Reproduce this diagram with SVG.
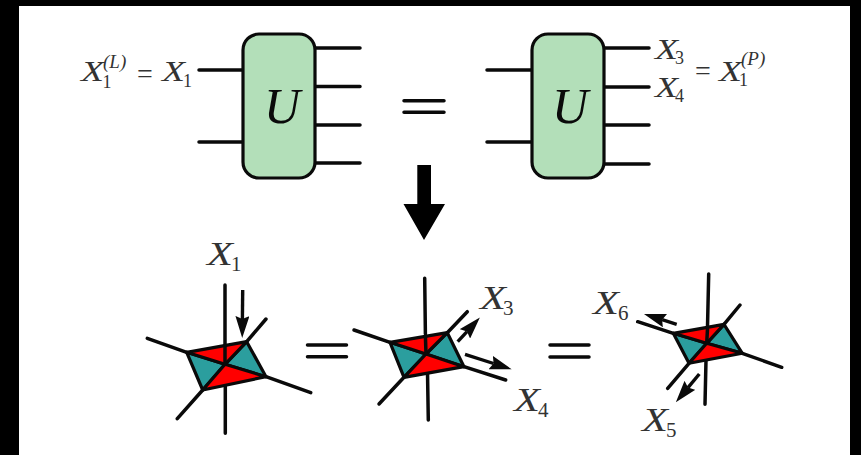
<svg xmlns="http://www.w3.org/2000/svg" width="861" height="455" viewBox="0 0 861 455">
<style>
.l{stroke:#0a0a0a;stroke-width:3.5;stroke-linecap:round;fill:none}
.b{fill:#b3dfb9;stroke:#0a0a0a;stroke-width:3.2}
.r{fill:#ff0000;stroke:#0a0a0a;stroke-width:3.2;stroke-linejoin:round}
.t{fill:#2b9e9e;stroke:#0a0a0a;stroke-width:3.2;stroke-linejoin:round}
.a{stroke:#0a0a0a;stroke-width:3.4;fill:none;marker-end:url(#h)}
text{font-family:"Liberation Serif","Times New Roman",serif;fill:#333}
.X{font-style:italic;font-size:34px}
.x{font-style:italic;font-size:30px}
.s{font-size:21px}
.q{font-size:18px}
.p{font-size:19px;font-style:italic}
.e{font-size:28px}
.U{font-style:italic;font-size:50px;fill:#0a0a0a}
</style>
<defs>
<marker id="h" markerUnits="userSpaceOnUse" markerWidth="22" markerHeight="14" viewBox="0 -7 22 14" refX="3" refY="0" orient="auto"><path d="M0,-7L22,0L0,7L3,0z" fill="#0a0a0a"/></marker>
</defs>
<rect width="861" height="455" fill="#000"/>
<rect x="19" y="6" width="831" height="449" fill="#fff"/>
<g id="connectors">
<path class="l" d="M199,70H244M199,142H244M315,48H360M315,86.500H360M315,125H360M315,163H360"/>
<path class="l" d="M487,70H532M487,142H532M604,48H649M604,87H649M604,125H649M604,164H649"/>
<path class="l" d="M404,100.700H444M404,112.300H444M307.500,345H346.500M307.500,356.700H346.500M550,345H589M550,357H589"/>
</g>
<g id="node-U-left"><rect class="b" x="243" y="34" width="72" height="144" rx="16"/><text class="U" x="282" y="123" text-anchor="middle">U</text></g>
<g id="node-U-right"><rect class="b" x="532" y="34" width="72" height="144" rx="16"/><text class="U" x="570" y="123" text-anchor="middle">U</text></g>
<path id="down-arrow" d="M417.300,165H431V204H445L424,240L403.500,204H417.300z" fill="#000"/>
<g id="node-tensor-1">
<path class="l" d="M225,285V352M225.300,385V433.300M246.700,341.700L266,319M186.700,352.300L147.300,338.300M266,376.700L310.700,392.700M202.700,390L177.300,418.700"/>
<polygon class="t" points="186.700,352.300 225,364.300 202.700,390"/><polygon class="t" points="246.700,341.700 266,376.700 225,364.300"/>
<polygon class="r" points="186.700,352.300 246.700,341.700 225,364.300"/><polygon class="r" points="266,376.700 202.700,390 225,364.300"/>
<path class="l" d="M225,346V364"/>
</g>
<line class="a" x1="242.700" y1="290" x2="242.400" y2="319"/>
<g id="node-tensor-2">
<path class="l" d="M424.700,278.300L425.400,334M427.500,372L428.300,420M447.300,332.700L467.300,311.700M390,342.300L354,330M464,366.700L505.700,380M404,377.300L379,404"/>
<polygon class="t" points="390,342.300 426,354 404,377.300"/><polygon class="t" points="447.300,332.700 464,366.700 426,354"/>
<polygon class="r" points="390,342.300 447.300,332.700 426,354"/><polygon class="r" points="464,366.700 404,377.300 426,354"/>
<path class="l" d="M425.400,336L426,354"/>
</g>
<line class="a" x1="457.700" y1="341.700" x2="467" y2="331.600"/>
<line class="a" x1="465" y1="354.300" x2="493.600" y2="363.500"/>
<g id="node-tensor-3">
<path class="l" d="M708.700,274L707.500,327M706,360L705,404.300M724,324.300L740,305M673.300,333.300L637.700,321.700M742.300,353.300L781.700,367.300M689,363.300L667.700,388.300"/>
<polygon class="t" points="673.300,333.300 706.700,343.300 689,363.300"/><polygon class="t" points="724,324.300 742.300,353.300 706.700,343.300"/>
<polygon class="r" points="673.300,333.300 724,324.300 706.700,343.300"/><polygon class="r" points="742.300,353.300 689,363.300 706.700,343.300"/>
<path class="l" d="M707.500,329L706.700,343.300"/>
</g>
<line class="a" x1="676.700" y1="324.300" x2="662.100" y2="319.700"/>
<line class="a" x1="699.300" y1="374" x2="688" y2="387.600"/>
<g id="labels">
<text x="81" y="81"><tspan class="x" textLength="23" lengthAdjust="spacingAndGlyphs">X</tspan><tspan class="q" x="102.500" y="88">1</tspan><tspan class="p" x="103" y="67.500">(L)</tspan><tspan class="e" x="137" y="83">=</tspan></text>
<text x="162" y="81"><tspan class="x" textLength="23" lengthAdjust="spacingAndGlyphs">X</tspan><tspan class="q" x="183" y="87">1</tspan></text>
<text x="655" y="58.500"><tspan class="x" textLength="23" lengthAdjust="spacingAndGlyphs">X</tspan><tspan class="q" x="675" y="63.500">3</tspan></text>
<text x="655" y="97"><tspan class="x" textLength="23" lengthAdjust="spacingAndGlyphs">X</tspan><tspan class="q" x="675" y="102">4</tspan></text>
<text class="e" x="695" y="79.500">=</text>
<text x="719" y="81"><tspan class="x" textLength="23" lengthAdjust="spacingAndGlyphs">X</tspan><tspan class="q" x="739" y="85.500">1</tspan><tspan class="p" x="741" y="65">(P)</tspan></text>
<text x="207" y="265"><tspan class="X" textLength="26" lengthAdjust="spacingAndGlyphs">X</tspan><tspan class="s" x="231" y="271">1</tspan></text>
<text x="480" y="309"><tspan class="X" textLength="26" lengthAdjust="spacingAndGlyphs">X</tspan><tspan class="s" x="503" y="315">3</tspan></text>
<text x="514" y="411"><tspan class="X" textLength="26" lengthAdjust="spacingAndGlyphs">X</tspan><tspan class="s" x="538" y="417">4</tspan></text>
<text x="642" y="431"><tspan class="X" textLength="26" lengthAdjust="spacingAndGlyphs">X</tspan><tspan class="s" x="666" y="437">5</tspan></text>
<text x="593" y="314"><tspan class="X" textLength="26" lengthAdjust="spacingAndGlyphs">X</tspan><tspan class="s" x="618" y="320">6</tspan></text>
</g>
</svg>
